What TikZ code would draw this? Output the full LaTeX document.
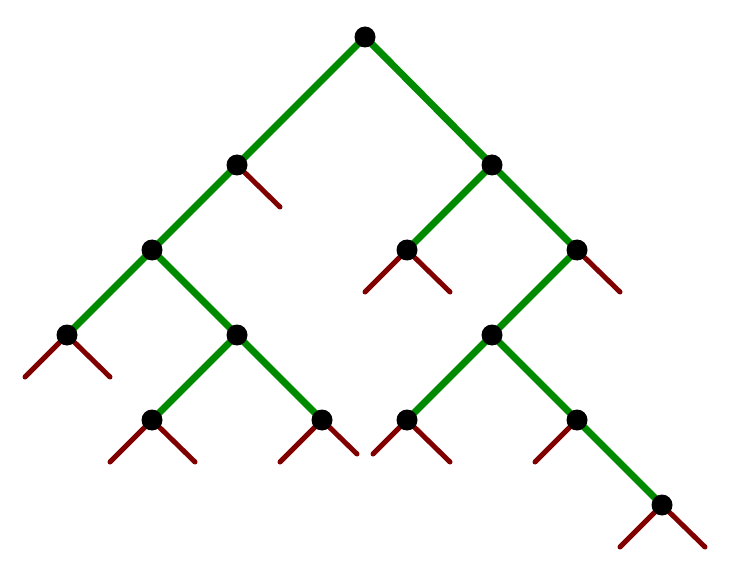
\documentclass[tikz,border=0pt]{standalone}
\begin{document}
\begin{tikzpicture}[x=1pt,y=-1pt,
  edge/.style={draw=treegreen,line width=7pt,line cap=round},
  stub/.style={draw=stubred,line width=5pt,line cap=round},
  dot/.style={circle,fill=black,inner sep=0pt,minimum size=21pt}]
\definecolor{treegreen}{RGB}{0,138,0}
\definecolor{stubred}{RGB}{128,0,0}
\useasboundingbox (0,0) rectangle (739,580);
% internal node positions
\coordinate (r) at (365,37);
\coordinate (a) at (237,165);
\coordinate (b) at (492,165);
\coordinate (c) at (152,250);
\coordinate (h) at (407,250);
\coordinate (i) at (577,250);
\coordinate (d) at (67,335);
\coordinate (e) at (237,335);
\coordinate (j) at (492,335);
\coordinate (f) at (152,420);
\coordinate (g) at (322,420);
\coordinate (k) at (407,420);
\coordinate (l) at (577,420);
\coordinate (m) at (662,505);
% stub ends
\coordinate (a2) at (280,207);
\coordinate (d1) at (25,377);
\coordinate (d2) at (110,377);
\coordinate (f1) at (110,462);
\coordinate (f2) at (195,462);
\coordinate (g1) at (280,462);
\coordinate (g2) at (357,454);
\coordinate (h1) at (365,292);
\coordinate (h2) at (450,292);
\coordinate (i2) at (620,292);
\coordinate (k1) at (373,454);
\coordinate (k2) at (450,462);
\coordinate (l1) at (535,462);
\coordinate (m1) at (620,547);
\coordinate (m2) at (705,547);
% stubs
\foreach \p/\q in {a/a2,d/d1,d/d2,f/f1,f/f2,g/g1,g/g2,h/h1,h/h2,i/i2,k/k1,k/k2,l/l1,m/m1,m/m2}
  \draw[stub] (\p) -- (\q);
% edges
\foreach \p/\q in {r/a,r/b,a/c,c/d,c/e,e/f,e/g,b/h,b/i,i/j,j/k,j/l,l/m}
  \draw[edge] (\p) -- (\q);
% nodes
\foreach \n in {r,a,b,c,h,i,d,e,j,f,g,k,l,m}
  \node[dot] (n\n) at (\n) {};
\end{tikzpicture}
\end{document}
